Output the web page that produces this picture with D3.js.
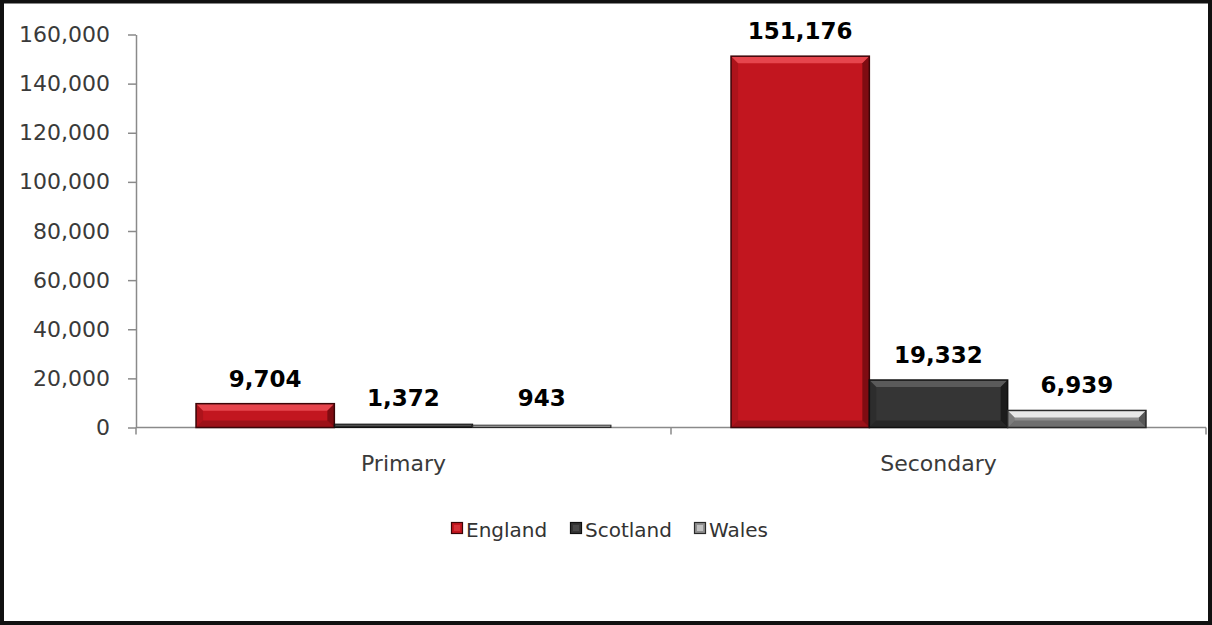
<!DOCTYPE html>
<html>
<head>
<meta charset="utf-8">
<script src="https://cdn.jsdelivr.net/npm/d3@7"></script>
<style>
  html, body { margin: 0; padding: 0; background: #fff; }
  svg { display: block; }
</style>
</head>
<body>
<svg id="chart" width="1212" height="625"></svg>
<script>
// Pupil counts by school phase and nation
const categories = ["Primary", "Secondary"];
const seriesNames = ["England", "Scotland", "Wales"];
const england = [9704, 151176];
const scotland = [1372, 19332];
const wales = [943, 6939];
const yTicks = [0, 20000, 40000, 60000, 80000, 100000, 120000, 140000, 160000];

const seriesValues = [england, scotland, wales];

// Bevelled fill styles for each nation
const palette = {
  England:  { base: "#c2161f", light: "#ea4a52", dark: "#6e0a0f", stroke: "#3c0508" },
  Scotland: { base: "#353535", light: "#5e5e5e", dark: "#161616", stroke: "#101010" },
  Wales:    { base: "#8e8e8e", light: "#f2f2f2", dark: "#4a4a4a", stroke: "#2a2a2a" }
};

const svg = d3.select("#chart");
const W = 1212, H = 625;

// outer frame
svg.append("rect")
  .attr("x", 2).attr("y", 1.5)
  .attr("width", W - 4).attr("height", H - 3.5)
  .attr("fill", "#fff")
  .attr("stroke", "#111")
  .attr("stroke-width", 4);

const plot = { left: 136, right: 1206, top: 34.5, bottom: 427.5 };

const y = d3.scaleLinear().domain([0, 160000]).range([plot.bottom, plot.top]);
const x0 = d3.scaleBand().domain(categories).range([plot.left, plot.right]).padding(0);
const x1 = d3.scaleBand().domain(seriesNames).range([0, x0.bandwidth()])
  .paddingInner(0).paddingOuter(0.434);

const fmt = d3.format(",");

// y axis
const yAxis = svg.append("g")
  .attr("transform", `translate(${plot.left},0)`)
  .call(d3.axisLeft(y).tickValues(yTicks).tickFormat(fmt).tickSize(8).tickSizeOuter(0).tickPadding(18));
yAxis.select(".domain").attr("stroke", "#8a8a8a").attr("stroke-width", 1.5);
yAxis.selectAll(".tick line").attr("stroke", "#8a8a8a").attr("stroke-width", 1.5);
yAxis.selectAll(".tick text")
  .attr("fill", "#3a3a3a")
  .style("font-family", "'DejaVu Sans', Verdana, sans-serif")
  .style("font-size", "22px");

// x axis with boundary ticks between categories
const xAxisG = svg.append("g").attr("transform", `translate(0,${plot.bottom})`);
xAxisG.append("line")
  .attr("x1", plot.left).attr("x2", plot.right)
  .attr("y1", 0).attr("y2", 0)
  .attr("stroke", "#8a8a8a").attr("stroke-width", 1.5);
const boundaries = categories.map(c => x0(c)).concat([x0(categories[categories.length - 1]) + x0.bandwidth()]);
xAxisG.selectAll("line.bt").data(boundaries).join("line")
  .attr("class", "bt")
  .attr("x1", d => d).attr("x2", d => d)
  .attr("y1", 0).attr("y2", 7)
  .attr("stroke", "#8a8a8a").attr("stroke-width", 1.5);
xAxisG.selectAll("text.cat").data(categories).join("text")
  .attr("class", "cat")
  .attr("x", d => x0(d) + x0.bandwidth() / 2)
  .attr("y", 43)
  .attr("text-anchor", "middle")
  .attr("fill", "#3a3a3a")
  .style("font-family", "'DejaVu Sans', Verdana, sans-serif")
  .style("font-size", "22px")
  .text(d => d);

// bevelled bar drawing
function bevelBar(g, bx, by, bw, bh, p) {
  const b = Math.max(0, Math.min(7, bh / 2.2));
  g.append("rect")
    .attr("x", bx).attr("y", by).attr("width", bw).attr("height", bh)
    .attr("fill", p.base);
  if (b > 0.8) {
    // top highlight
    g.append("polygon")
      .attr("points", [[bx, by], [bx + bw, by], [bx + bw - b, by + b], [bx + b, by + b]].map(q => q.join(",")).join(" "))
      .attr("fill", p.light).attr("opacity", 0.9);
    // right shade
    g.append("polygon")
      .attr("points", [[bx + bw, by], [bx + bw, by + bh], [bx + bw - b, by + bh - b], [bx + bw - b, by + b]].map(q => q.join(",")).join(" "))
      .attr("fill", p.dark).attr("opacity", 0.8);
    // bottom shade
    g.append("polygon")
      .attr("points", [[bx, by + bh], [bx + bw, by + bh], [bx + bw - b, by + bh - b], [bx + b, by + bh - b]].map(q => q.join(",")).join(" "))
      .attr("fill", p.dark).attr("opacity", 0.45);
    // left shade
    g.append("polygon")
      .attr("points", [[bx, by], [bx, by + bh], [bx + b, by + bh - b], [bx + b, by + b]].map(q => q.join(",")).join(" "))
      .attr("fill", p.dark).attr("opacity", 0.25);
  }
  g.append("rect")
    .attr("x", bx).attr("y", by).attr("width", bw).attr("height", bh)
    .attr("fill", "none").attr("stroke", p.stroke).attr("stroke-width", bh < 4 ? 1 : 1.5);
}

const bars = svg.append("g");
const labels = svg.append("g");
seriesNames.forEach((s, si) => {
  categories.forEach((c, ci) => {
    const v = seriesValues[si][ci];
    const bx = x0(c) + x1(s);
    const by = y(v);
    const bh = y(0) - y(v);
    bevelBar(bars.append("g"), bx, by, x1.bandwidth(), bh, palette[s]);
    labels.append("text")
      .attr("x", bx + x1.bandwidth() / 2)
      .attr("y", Math.min(by - 17, y(0) - 22))
      .attr("text-anchor", "middle")
      .attr("fill", "#000")
      .style("font-family", "'DejaVu Sans', Verdana, sans-serif")
      .style("font-weight", "bold")
      .style("font-size", "23px")
      .text(fmt(v));
  });
});

// legend with small square swatches
const legendX = [451, 570, 694];
const legend = svg.append("g");
seriesNames.forEach((s, i) => {
  const p = palette[s];
  const g = legend.append("g").attr("transform", `translate(${legendX[i]},522)`);
  g.append("rect")
    .attr("x", 0.5).attr("y", 0.5).attr("width", 11).attr("height", 11)
    .attr("fill", p.base).attr("stroke", p.stroke).attr("stroke-width", 1.2);
  g.append("rect")
    .attr("x", 3).attr("y", 3).attr("width", 6).attr("height", 6)
    .attr("fill", p.light).attr("opacity", 0.5);
  g.append("text")
    .attr("x", 15).attr("y", 15)
    .attr("fill", "#333")
    .style("font-family", "'DejaVu Sans', Verdana, sans-serif")
    .style("font-size", "20px")
    .text(s);
});
</script>
</body>
</html>
